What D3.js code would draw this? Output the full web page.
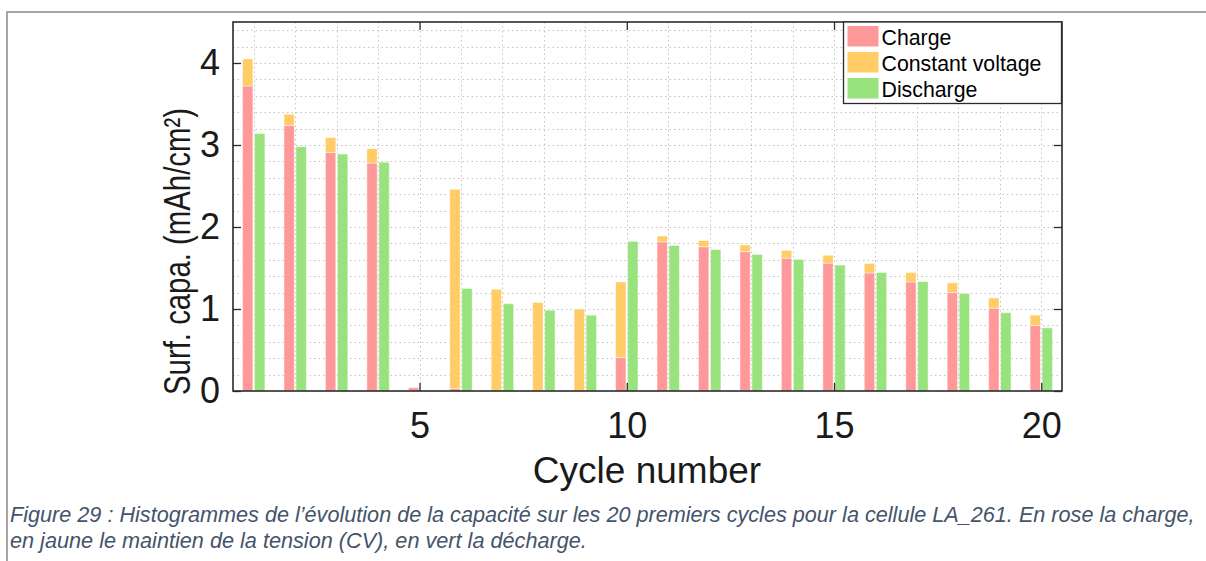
<!DOCTYPE html>
<html>
<head>
<meta charset="utf-8">
<script src="https://cdn.jsdelivr.net/npm/d3@7"></script>
<style>
  html, body { margin: 0; padding: 0; background: #ffffff; }
  svg { display: block; }
</style>
</head>
<body>
<svg id="chart" width="1206" height="561"></svg>
<script>
// Surface capacity per cycle for cell LA_261 (mAh/cm²)
const cycles = d3.range(1, 21);
const chargeCap = [3.72, 3.24, 2.91, 2.78, 0.04, 0.03, 0, 0, 0, 0.41,
                   1.82, 1.76, 1.70, 1.62, 1.56, 1.44, 1.33, 1.20, 1.01, 0.80];
const cvCap = [0.33, 0.135, 0.18, 0.175, 0, 2.43, 1.24, 1.08, 1.00, 0.92,
               0.07, 0.075, 0.08, 0.095, 0.095, 0.115, 0.115, 0.12, 0.125, 0.125];
const dischargeCap = [3.14, 2.98, 2.89, 2.79, 0, 1.25, 1.065, 0.985, 0.925, 1.825,
                      1.775, 1.725, 1.665, 1.605, 1.535, 1.445, 1.335, 1.19, 0.955, 0.77];

const seriesNames = ["Charge", "Constant voltage", "Discharge"];
const seriesColors = ["#ff9999", "#ffcc66", "#99e37f"];
const xTicks = [5, 10, 15, 20];
const yTicks = [0, 1, 2, 3, 4];
const xLabel = "Cycle number";
const yLabel = "Surf. capa. (mAh/cm²)";
const captionLines = [
  "Figure 29 : Histogrammes de l’évolution de la capacité sur les 20 premiers cycles pour la cellule LA_261. En rose la charge,",
  "en jaune le maintien de la tension (CV), en vert la décharge."
];
const captionWidths = [1185, 577];

const svg = d3.select("#chart");
const plot = { left: 233, right: 1062, top: 22, bottom: 391 };
const x = d3.scaleLinear().domain([0.5, 20.5]).range([plot.left, plot.right]);
const y = d3.scaleLinear().domain([0, 4.5]).range([plot.bottom, plot.top]);
const barW = 0.25, barOff = 0.145;
const axisColor = "#2b2b2b";
const font = "'Liberation Sans', Arial, Helvetica, sans-serif";

// Document frame around the figure
svg.append("line").attr("x1", 7).attr("x2", 1206).attr("y1", 12).attr("y2", 12)
  .attr("stroke", "#a6a6a6").attr("stroke-width", 2);
svg.append("line").attr("x1", 7).attr("x2", 7).attr("y1", 11).attr("y2", 561)
  .attr("stroke", "#a6a6a6").attr("stroke-width", 2);

// Dotted grid: every 0.2 horizontally, every cycle vertically
const grid = svg.append("g").attr("stroke", "#c4c4c4").attr("stroke-width", 1)
  .attr("stroke-dasharray", "1.5,3");
grid.selectAll("line.h").data(d3.range(1, 23).map(i => i * 0.2)).join("line")
  .attr("x1", plot.left).attr("x2", plot.right)
  .attr("y1", d => Math.round(y(d)) + 0.5).attr("y2", d => Math.round(y(d)) + 0.5);
grid.selectAll("line.v").data(cycles).join("line")
  .attr("y1", plot.top).attr("y2", plot.bottom)
  .attr("x1", d => Math.round(x(d)) + 0.5).attr("x2", d => Math.round(x(d)) + 0.5);

// Stacked charge + CV bars
const stackRows = cycles.map((c, i) => ({ cycle: c, charge: chargeCap[i], cv: cvCap[i] }));
const stacked = d3.stack().keys(["charge", "cv"])(stackRows);
const barPx = x(barW) - x(0);
svg.append("g").selectAll("g").data(stacked).join("g")
  .attr("fill", (d, i) => seriesColors[i])
  .selectAll("rect").data(d => d.filter(p => p[1] - p[0] > 0)).join("rect")
  .attr("x", d => x(d.data.cycle - barOff) - barPx / 2)
  .attr("width", barPx)
  .attr("y", d => y(d[1]))
  .attr("height", d => y(d[0]) - y(d[1]))
  .attr("stroke", "rgba(255,255,255,0.45)").attr("stroke-width", 1);

// Discharge bars
svg.append("g").attr("fill", seriesColors[2]).selectAll("rect")
  .data(cycles.map((c, i) => ({ cycle: c, v: dischargeCap[i] })).filter(d => d.v > 0))
  .join("rect")
  .attr("x", d => x(d.cycle + barOff) - barPx / 2)
  .attr("width", barPx)
  .attr("y", d => y(d.v))
  .attr("height", d => y(0) - y(d.v))
  .attr("stroke", "rgba(255,255,255,0.45)").attr("stroke-width", 1);

// Axes box with inward ticks on all four sides
const tickLen = 8;
const axBottom = svg.append("g").attr("transform", `translate(0,${plot.bottom})`)
  .call(d3.axisBottom(x).tickValues(xTicks).tickFormat(d3.format("d")).tickSize(-tickLen).tickSizeOuter(0));
const axTop = svg.append("g").attr("transform", `translate(0,${plot.top})`)
  .call(d3.axisTop(x).tickValues(xTicks).tickSize(-tickLen).tickFormat("").tickSizeOuter(0));
const axLeft = svg.append("g").attr("transform", `translate(${plot.left},0)`)
  .call(d3.axisLeft(y).tickValues(yTicks).tickFormat(d3.format("d")).tickSize(-tickLen).tickPadding(13).tickSizeOuter(0));
const axRight = svg.append("g").attr("transform", `translate(${plot.right},0)`)
  .call(d3.axisRight(y).tickValues(yTicks).tickSize(-tickLen).tickFormat("").tickSizeOuter(0));
[axBottom, axTop, axLeft, axRight].forEach(a => {
  a.select(".domain").remove();
  a.selectAll(".tick line").attr("stroke", axisColor).attr("stroke-width", 1.3);
  a.selectAll("text").attr("fill", "#1a1a1a").style("font-family", font).style("font-size", "36px");
});
axBottom.selectAll("text").attr("dy", "0.71em").attr("y", 21);
svg.append("rect").attr("x", plot.left).attr("y", plot.top)
  .attr("width", plot.right - plot.left).attr("height", plot.bottom - plot.top)
  .attr("fill", "none").attr("stroke", axisColor).attr("stroke-width", 1.6);

// Axis titles
svg.append("text").attr("x", 647).attr("y", 483).attr("text-anchor", "middle")
  .attr("fill", "#1a1a1a").style("font-family", font).style("font-size", "37px").text(xLabel);
svg.append("text").attr("transform", "translate(190,251.5) rotate(-90)")
  .attr("text-anchor", "middle").attr("textLength", 287).attr("lengthAdjust", "spacingAndGlyphs")
  .attr("fill", "#1a1a1a").style("font-family", font).style("font-size", "37px").text(yLabel);

// Legend
const legend = svg.append("g");
legend.append("rect").attr("x", 843.5).attr("y", 22).attr("width", 218).attr("height", 81.5)
  .attr("fill", "#ffffff").attr("stroke", axisColor).attr("stroke-width", 1.3);
const items = legend.selectAll("g").data(seriesNames).join("g")
  .attr("transform", (d, i) => `translate(0,${i * 26})`);
items.append("rect").attr("x", 847.5).attr("y", 26).attr("width", 31).attr("height", 20.5)
  .attr("fill", (d, i) => seriesColors[i]);
items.append("text").attr("x", 881.5).attr("y", 44.5).attr("fill", "#000000")
  .style("font-family", font).style("font-size", "21.3px").text(d => d);

// Caption: two italic lines, each condensed horizontally to its line width
svg.append("g").selectAll("text").data(captionLines).join("text")
  .attr("x", 0).attr("y", 0)
  .attr("fill", "#44546a").style("font-family", font)
  .style("font-style", "italic").style("font-size", "22px").text(d => d)
  .each(function (d, i) {
    const natural = this.getComputedTextLength();
    const k = captionWidths[i] / natural;
    d3.select(this).attr("transform", `translate(10,${522 + i * 26}) scale(${k},1)`);
  });
</script>
</body>
</html>
